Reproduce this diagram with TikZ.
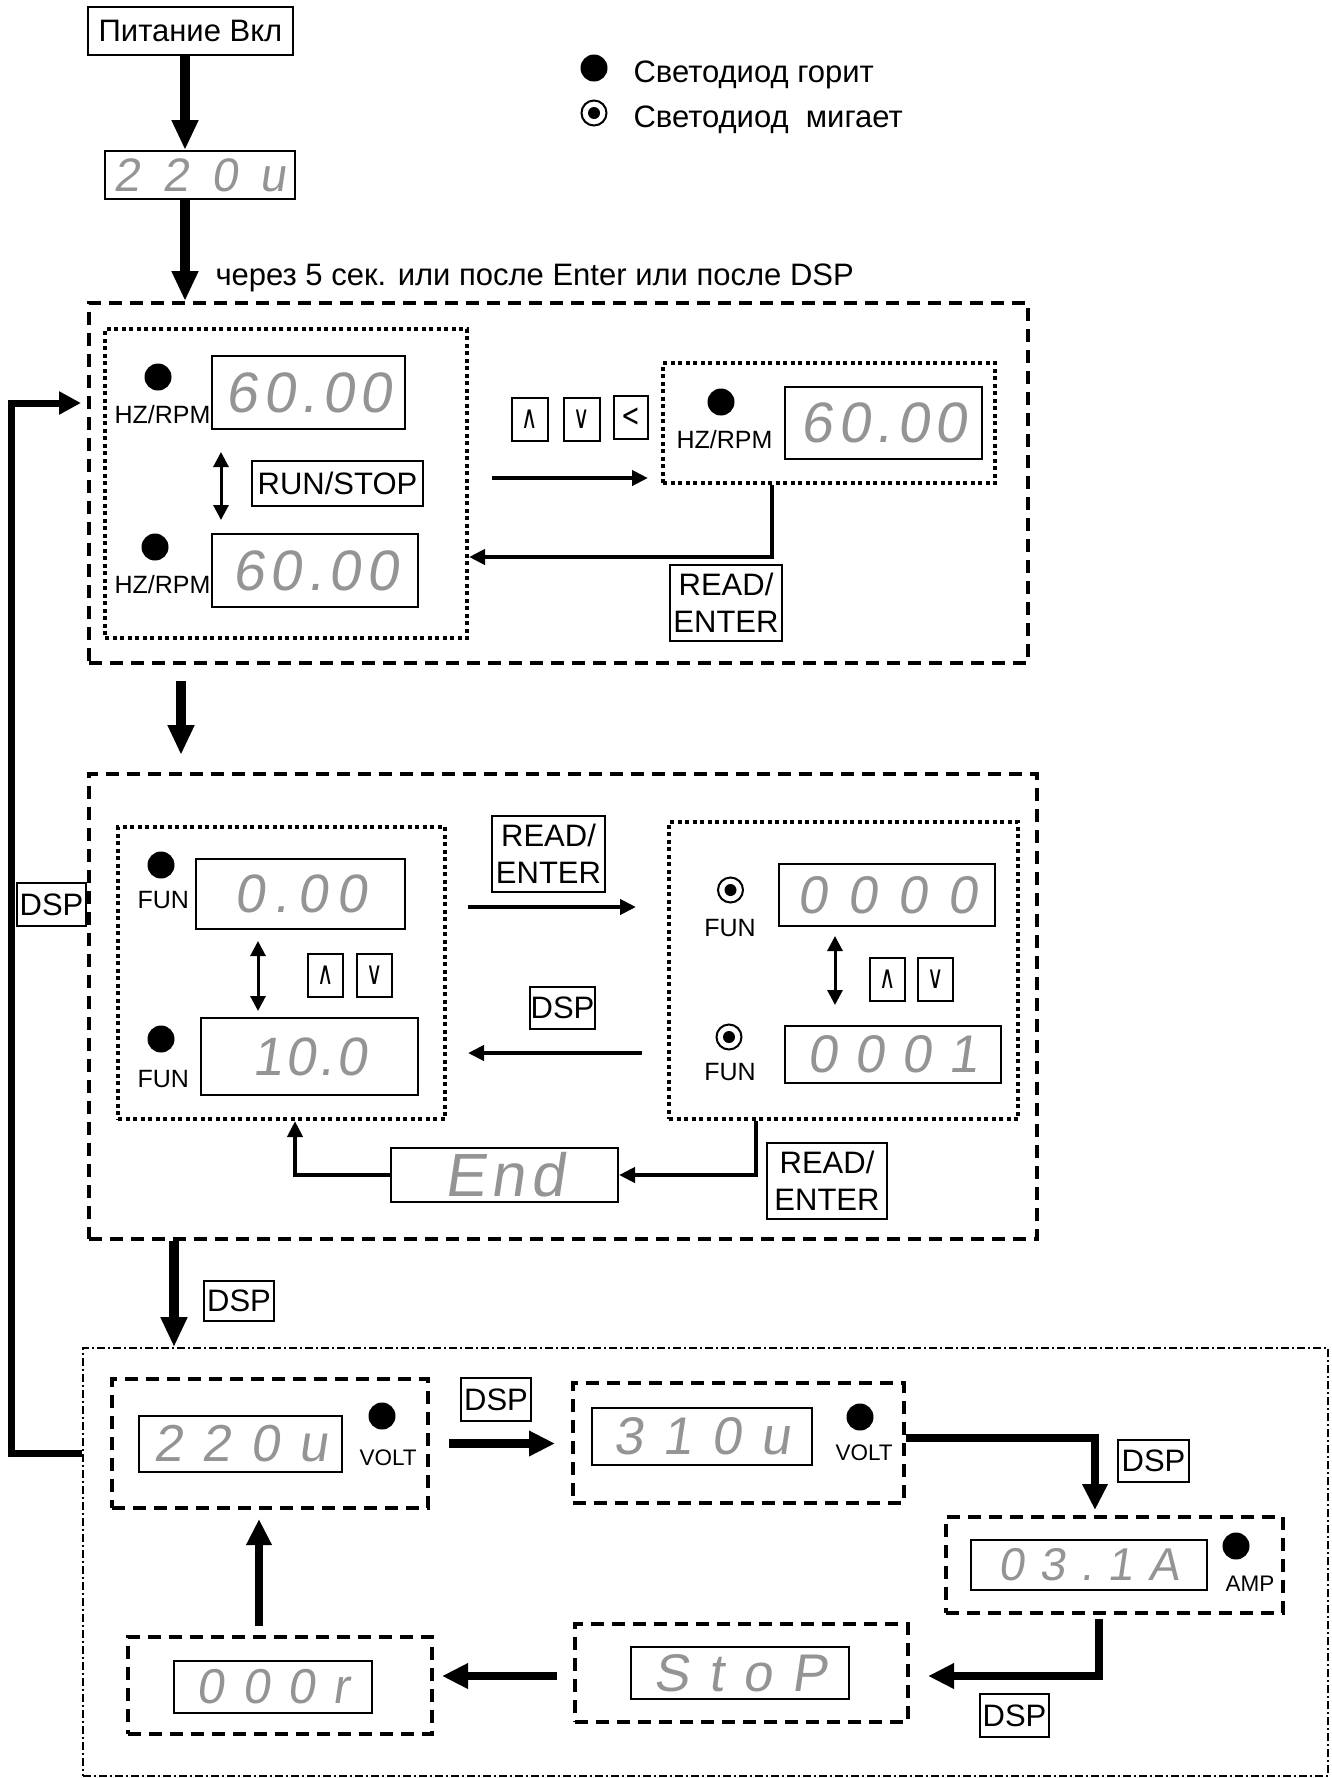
\documentclass[tikz,border=0pt]{standalone}
\usepackage{fontspec}
\setmainfont{Liberation Sans}
\newfontfamily\segfont[FakeSlant=0.15]{Liberation Sans}
\newfontfamily\symfont[FakeStretch=0.7]{DejaVu Sans}
\usepackage{tikz}
\usetikzlibrary{arrows.meta}
\tikzset{
    keybox/.style={draw, line width=2pt, inner sep=0pt},
    disp/.style={draw, line width=2pt, inner sep=0pt, text=black!42},
    seg/.style 2 args={font=\segfont\fontsize{#1}{#1}\selectfont\addfontfeature{LetterSpace=#2}},
    dashbox/.style={draw, line width=4pt, dash pattern=on 13pt off 8pt, inner sep=0pt},
    dotbox/.style={draw, line width=4pt, dash pattern=on 4pt off 3.5pt, inner sep=0pt},
    dashdotbox/.style={draw, line width=1.8pt, dash pattern=on 8pt off 3pt on 2pt off 3pt, inner sep=0pt},
    led/.style={circle, fill, inner sep=0pt, minimum size=27pt},
    ledblink/.style={circle, draw, line width=2pt, inner sep=0pt, minimum size=25pt,
        path picture={\fill (path picture bounding box.center) circle (6pt);}},
    lbl/.style={font=\fontsize{31}{37}\selectfont},
    lblsmall/.style={font=\fontsize{25}{30}\selectfont},
    lbltiny/.style={font=\fontsize{22.5}{27}\selectfont},
    keysym/.style={font=\symfont\fontsize{32}{32}\selectfont},
    bigarrow/.style={line width=10pt, -{Triangle[length=30pt, width=25pt]}},
    midarrow/.style={line width=8.5pt, -{Triangle[length=26pt, width=24pt]}},
    thinarrow/.style={line width=4pt, -{Triangle[length=16pt, width=15pt]}},
    dblarrow/.style={line width=3pt, {Triangle[length=15pt, width=15pt]}-{Triangle[length=15pt, width=15pt]}},
}
\begin{document}
\begin{tikzpicture}[x=1pt, y=-1pt]
\useasboundingbox (0,0) rectangle (1331,1778);

\node[keybox, lbl, minimum width=205pt, minimum height=48pt] (pwr) at (190.5,31) {Питание Вкл};
\node[disp, seg={47}{48}, minimum width=190pt, minimum height=48pt] (d0) at (200,175) {220u};
\node[lbl, anchor=base west] (note) at (212,285) {через 5 сек. или после Enter или после DSP};

\node[led] (l1) at (594,68) {};
\node[lbl, anchor=base west] (t1) at (630,82) {Светодиод горит};
\node[ledblink] (l2) at (594,113) {};
\node[lbl, anchor=base west] (t2) at (630,127) {Светодиод\ \ мигает};

\node[dashbox, minimum width=939pt, minimum height=360pt] (box1) at (558.5,483) {};
\node[dotbox, minimum width=362pt, minimum height=309pt] (inA) at (286,483.5) {};
\node[led] (ledA1) at (158,377) {};
\node[lblsmall, anchor=base west] (hzA1) at (111,423) {HZ/RPM};
\node[disp, seg={57}{10}, minimum width=193pt, minimum height=73pt] (dA1) at (308.5,392.5) {60.00};
\node[keybox, lbl, minimum width=171pt, minimum height=45pt] (rs) at (337.5,483.5) {RUN/STOP};
\node[led] (ledA2) at (155,547) {};
\node[lblsmall, anchor=base west] (hzA2) at (111,593) {HZ/RPM};
\node[disp, seg={57}{10}, minimum width=206pt, minimum height=73pt] (dA2) at (315,570.5) {60.00};
\node[keybox, keysym, minimum width=36pt, minimum height=43pt] (upA) at (530,419.5) {∧};
\node[keybox, keysym, minimum width=36pt, minimum height=43pt] (dnA) at (582,419.5) {∨};
\node[keybox, keysym, minimum width=34pt, minimum height=43pt] (ltA) at (631,417.5) {<};
\node[dotbox, minimum width=332pt, minimum height=120pt] (inR) at (829,423) {};
\node[led] (ledR) at (721,402) {};
\node[lblsmall, anchor=base west] (hzR) at (673,448) {HZ/RPM};
\node[disp, seg={57}{10}, minimum width=197pt, minimum height=72pt] (dR) at (883.5,423) {60.00};
\node[keybox, lbl, align=center, minimum width=112pt, minimum height=76pt] (reA) at (726,603) {READ/\\ENTER};

\coordinate (c1) at (185,0);
\coordinate (c2) at (221,0);
\coordinate (c3) at (0,478);
\coordinate (c4) at (772,557);
\draw[bigarrow] (pwr.south -| c1) -- (d0.north -| c1);
\draw[bigarrow] (d0.south -| c1) -- (box1.north -| c1);
\draw[dblarrow, shorten <=22pt, shorten >=13pt] (dA1.south -| c2) -- (dA2.north -| c2);
\draw[thinarrow, shorten <=23pt, shorten >=13pt] (inA.east |- c3) -- (inR.west |- c3);
\draw[thinarrow] (inR.south -| c4) -- (c4) -- (inA.east |- c4);

\node[dashbox, minimum width=948pt, minimum height=465pt] (box2) at (563,1006.5) {};
\node[dotbox, minimum width=327pt, minimum height=292pt] (inL) at (281.5,973) {};
\node[led] (ledL1) at (161,865) {};
\node[lblsmall, anchor=base west] (funL1) at (134,908) {FUN};
\node[disp, seg={54}{17}, minimum width=209pt, minimum height=70pt] (dL1) at (300.5,894) {0.00};
\node[keybox, keysym, minimum width=35pt, minimum height=43pt] (upL) at (325.5,975.5) {∧};
\node[keybox, keysym, minimum width=35pt, minimum height=43pt] (dnL) at (374.5,975.5) {∨};
\node[led] (ledL2) at (161,1039) {};
\node[lblsmall, anchor=base west] (funL2) at (134,1087) {FUN};
\node[disp, seg={54}{6}, minimum width=217pt, minimum height=77pt] (dL2) at (309.5,1056.5) {10.0};
\node[dotbox, minimum width=349pt, minimum height=297pt] (inM) at (843.5,970.5) {};
\node[ledblink] (ledM1) at (730.5,890) {};
\node[lblsmall, anchor=base] (funM1) at (730,936) {FUN};
\node[disp, seg={53}{39}, minimum width=216pt, minimum height=62pt] (dM1) at (887,895) {0000};
\node[keybox, keysym, minimum width=35pt, minimum height=43pt] (upM) at (887.5,979.5) {∧};
\node[keybox, keysym, minimum width=35pt, minimum height=43pt] (dnM) at (935.5,979.5) {∨};
\node[ledblink] (ledM2) at (729,1037) {};
\node[lblsmall, anchor=base] (funM2) at (730,1080) {FUN};
\node[disp, seg={53}{33}, minimum width=216pt, minimum height=57pt] (dM2) at (893,1054.5) {0001};
\node[keybox, lbl, align=center, minimum width=113pt, minimum height=76pt] (reL) at (548.5,854) {READ/\\ENTER};
\node[keybox, lbl, minimum width=65pt, minimum height=42pt] (dspL) at (562.5,1008) {DSP};
\node[disp, seg={61}{10}, minimum width=227pt, minimum height=54pt] (dE) at (504.5,1175) {End};
\node[keybox, lbl, align=center, minimum width=120pt, minimum height=76pt] (reM) at (827,1181) {READ/\\ENTER};
\node[keybox, lbl, minimum width=69pt, minimum height=43pt] (dspLoop) at (51.5,904.5) {DSP};

\coordinate (c5) at (181,0);
\coordinate (c6) at (258,0);
\coordinate (c7) at (835,0);
\coordinate (c8) at (0,907);
\coordinate (c9) at (0,1053);
\coordinate (c10) at (756,1175);
\coordinate (c11) at (295,1175);
\draw[bigarrow, shorten <=16pt, shorten >=17pt] (box1.south -| c5) -- (box2.north -| c5);
\draw[dblarrow, shorten <=11pt, shorten >=6pt] (dL1.south -| c6) -- (dL2.north -| c6);
\draw[dblarrow, shorten <=9pt, shorten >=20pt] (dM1.south -| c7) -- (dM2.north -| c7);
\draw[thinarrow, shorten <=21pt, shorten >=31pt] (inL.east |- c8) -- (inM.west |- c8);
\draw[thinarrow, shorten <=25pt, shorten >=21pt] (inM.west |- c9) -- (inL.east |- c9);
\draw[thinarrow] (inM.south -| c10) -- (c10) -- (dE.east);
\draw[thinarrow] (dE.west) -- (c11) -- (inL.south -| c11);

\node[dashdotbox, minimum width=1245pt, minimum height=428pt] (box3) at (705.5,1562) {};
\node[keybox, lbl, minimum width=70pt, minimum height=40pt] (dsp1) at (239,1301) {DSP};
\node[dashbox, minimum width=316pt, minimum height=129pt] (ba) at (270,1443.5) {};
\node[disp, seg={52}{37}, minimum width=203pt, minimum height=56pt] (da) at (240.5,1444) {220u};
\node[led] (leda) at (382,1416) {};
\node[lbltiny, anchor=base west] (va) at (356,1465) {VOLT};
\node[keybox, lbl, minimum width=70pt, minimum height=43pt] (dsp2) at (496,1399.5) {DSP};
\node[dashbox, minimum width=331pt, minimum height=120pt] (bb) at (738.5,1443) {};
\node[disp, seg={53}{37}, minimum width=220pt, minimum height=57pt] (db) at (702,1436.5) {310u};
\node[led] (ledb) at (860,1417) {};
\node[lbltiny, anchor=base west] (vb) at (832,1460) {VOLT};
\node[keybox, lbl, minimum width=71pt, minimum height=42pt] (dsp3) at (1153.5,1461) {DSP};
\node[dashbox, minimum width=337pt, minimum height=96pt] (bc) at (1114.5,1565) {};
\node[disp, seg={46}{33}, minimum width=236pt, minimum height=50pt] (dc) at (1089,1565) {03.1A};
\node[led] (ledc) at (1236,1546) {};
\node[lbltiny, anchor=base west] (ac) at (1222,1591) {AMP};
\node[keybox, lbl, minimum width=69pt, minimum height=43pt] (dsp4) at (1014.5,1715.5) {DSP};
\node[dashbox, minimum width=333pt, minimum height=98pt] (bd) at (741.5,1673) {};
\node[disp, seg={53}{37}, minimum width=218pt, minimum height=52pt] (dd) at (740,1673) {StoP};
\node[dashbox, minimum width=304pt, minimum height=97pt] (be) at (280,1685.5) {};
\node[disp, seg={49}{37}, minimum width=198pt, minimum height=52pt] (de) at (273,1687) {000r};

\coordinate (c12) at (174,0);
\coordinate (c13) at (1095,1438);
\coordinate (c14) at (1099,1676);
\coordinate (c15) at (259,0);
\coordinate (c16) at (11,1453);
\coordinate (c17) at (11,403);
\draw[bigarrow] (box2.south -| c12) -- (box3.north -| c12);
\draw[midarrow, shorten <=19pt, shorten >=16pt] (ba.east) -- (bb.west |- ba.east);
\draw[midarrow, shorten >=5pt] (bb.east |- c13) -- (c13) -- (bc.north -| c13);
\draw[midarrow, shorten <=4pt, shorten >=18pt] (bc.south -| c14) -- (c14) -- (bd.east |- c14);
\draw[midarrow, shorten <=16pt, shorten >=8pt] (bd.west |- c14) -- (be.east |- c14);
\draw[midarrow, shorten <=9pt, shorten >=9pt] (be.north -| c15) -- (ba.south -| c15);
\draw[line width=7pt, -{Triangle[length=22pt, width=22pt]}, shorten >=6pt] (box3.west |- c16) -- (c16) -- (c17) -- (box1.west |- c17);
\end{tikzpicture}
\end{document}
